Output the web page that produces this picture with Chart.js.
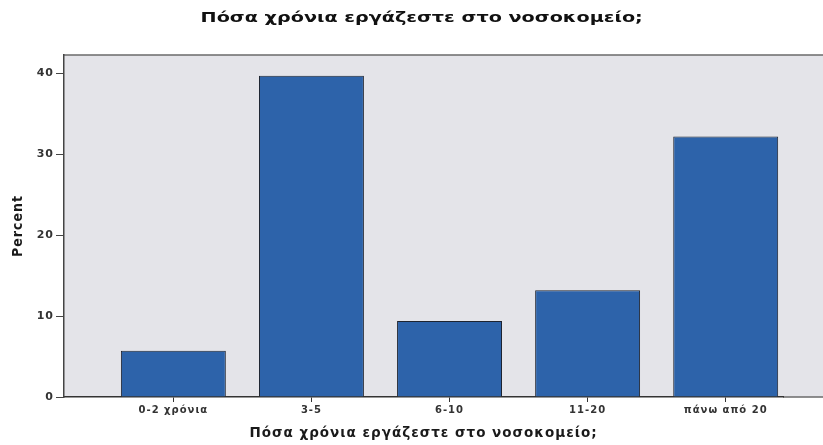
<!DOCTYPE html>
<html>
<head>
<meta charset="utf-8">
<script src="https://cdn.jsdelivr.net/npm/chart.js@4"></script>
<style>
  html, body { margin: 0; padding: 0; background: #ffffff; }
  #wrap { position: relative; width: 823px; height: 445px; }
  #chartTitle {
    position: absolute; left: 0; top: 9px; width: 843px;
    text-align: center;
    font: bold 14px 'DejaVu Sans', sans-serif; color: #111111;
    transform: scaleX(1.37); transform-origin: 421px 0;
    white-space: nowrap;
  }
</style>
</head>
<body>
<div id="wrap">
  <div id="chartTitle"></div>
  <canvas id="yearsChart"></canvas>
</div>
<script>
// --- data ---
const ageGroups = ['0-2 χρόνια', '3-5', '6-10', '11-20', 'πάνω από 20'];
const percentValues = [5.7, 39.7, 9.4, 13.2, 32.2];
const yTicks = [0, 10, 20, 30, 40];
const chartTitle = 'Πόσα χρόνια εργάζεστε στο νοσοκομείο;';

document.getElementById('chartTitle').textContent = chartTitle;

// plot background runs past the last bar to the edge of the picture
const plotBackground = {
    id: 'plotBackground',
    beforeDraw(chart) {
        const { ctx, chartArea } = chart;
        ctx.save();
        ctx.fillStyle = '#e4e4e9';
        ctx.fillRect(chartArea.left, chartArea.top, chart.width - chartArea.left, chartArea.bottom - chartArea.top);
        ctx.strokeStyle = '#6b6b6b';
        ctx.lineWidth = 1.5;
        ctx.beginPath();
        ctx.moveTo(chartArea.left, chartArea.top);
        ctx.lineTo(chart.width, chartArea.top);
        ctx.moveTo(chartArea.right, chartArea.bottom);
        ctx.lineTo(chart.width, chartArea.bottom);
        ctx.stroke();
        ctx.restore();
        // the reference lettering is a little wider than DejaVu
        ctx.letterSpacing = '1px';
    },
    afterDraw(chart) {
        chart.ctx.letterSpacing = '0px';
    }
};

const ctx = document.getElementById('yearsChart');
new Chart(ctx, {
    type: 'bar',
    data: {
        datasets: [{
            label: 'Percent',
            data: percentValues.map((v, i) => ({ x: i, y: v })),
            backgroundColor: '#2d63aa',
            borderColor: '#1e2430',
            borderWidth: 1,
            barPercentage: 0.76,
            categoryPercentage: 1
        }]
    },
    options: {
        responsive: true,
        maintainAspectRatio: false,
        animation: false,
        layout: { padding: { top: 55 } },
        plugins: {
            legend: { display: false },
            tooltip: { enabled: false },
            title: { display: false }
        },
        scales: {
            x: {
                type: 'linear',
                offset: false,
                min: -0.792,
                max: 4.415,
                afterFit: (s) => { s.height = 48; },
                border: { display: true, color: '#333333', width: 1.5 },
                grid: { offset: false, drawOnChartArea: false, tickLength: 5, color: '#333333' },
                ticks: {
                    stepSize: 1,
                    includeBounds: false,
                    autoSkip: false,
                    maxRotation: 0,
                    padding: 2,
                    color: '#333333',
                    font: { family: 'DejaVu Sans', size: 10, weight: 'bold' },
                    callback: (v) => Number.isInteger(v) ? ageGroups[v] : ''
                },
                title: {
                    display: true,
                    text: chartTitle,
                    color: '#1a1a1a',
                    font: { family: 'DejaVu Sans', size: 13.5, weight: 'bold' },
                    padding: { top: 0, bottom: 3 }
                }
            },
            y: {
                min: 0,
                max: 42.26,
                afterFit: (s) => { s.width = 64; },
                border: { display: true, color: '#444444', width: 1.5 },
                grid: { drawOnChartArea: false, tickLength: 8, color: '#444444' },
                ticks: {
                    stepSize: 10,
                    includeBounds: false,
                    padding: 2,
                    color: '#333333',
                    font: { family: 'DejaVu Sans', size: 11, weight: 'bold' },
                    callback: (v) => yTicks.includes(v) ? v : ''
                },
                title: {
                    display: true,
                    text: 'Percent',
                    color: '#1a1a1a',
                    font: { family: "'Liberation Sans Narrow', 'DejaVu Sans Condensed', sans-serif", size: 14, weight: 'bold' },
                    padding: { top: 10, bottom: 0 }
                }
            },
            // empty strip on the right so the plot ends where the reference leaves space
            yRight: {
                position: 'right',
                display: true,
                afterFit: (s) => { s.width = 40; },
                border: { display: false },
                grid: { display: false },
                ticks: { display: false }
            }
        }
    },
    plugins: [plotBackground]
});
</script>
</body>
</html>
